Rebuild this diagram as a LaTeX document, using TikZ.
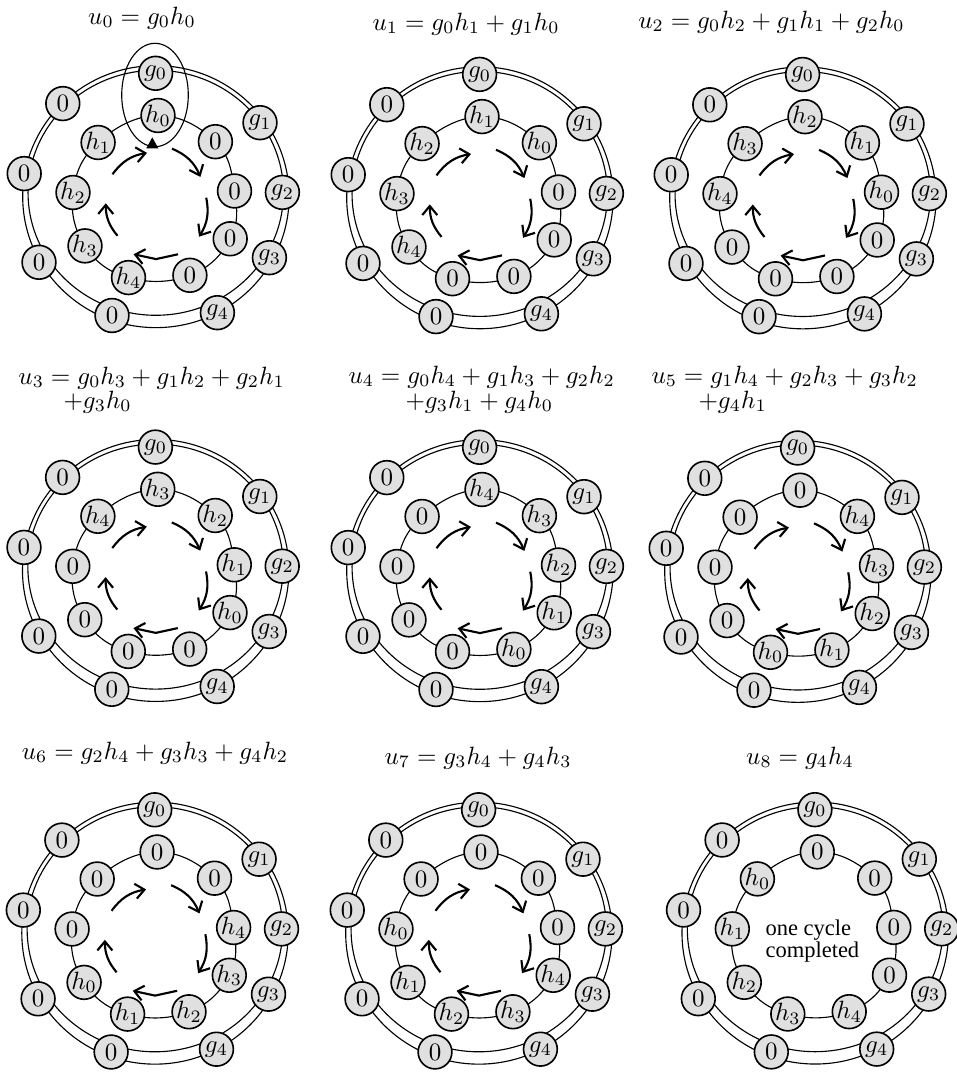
\documentclass[tikz,border=0pt]{standalone}
\usepackage{fontspec}
\newfontfamily\timesfont{Liberation Serif}
\usetikzlibrary{arrows.meta}
\definecolor{nodegray}{gray}{0.88}
\tikzset{
  ringnode/.style={circle, draw, line width=0.65pt, fill=nodegray, minimum size=13.5pt, inner sep=0pt},
  ringline/.style={line width=0.45pt},
  cyc/.style={line width=0.85pt, -{Straight Barb[length=3.6pt,width=6pt]}},
  ttl/.style={inner sep=0pt},
}
\newcommand{\drawpanel}[4]{%
 \begin{scope}[shift={(#2,1072-#3)}]
  \foreach \j/\x/\y in {0/-1.4/129,1/103/79.6,2/125.4/9.9,3/112.4/-55.4,4/60.4/-110.4,5/-45/-113.2,6/-118/-60,7/-132.8/28.7,8/-94.2/98.7}
    {\coordinate (oc#1-\j) at (\x,\y);}
  \foreach \j/\x/\y in {0/1/86.8,1/58.4/60.6,2/77.5/11.3,3/73.2/-36.5,4/32.9/-73,5/-28.5/-75.3,6/-72/-43.6,7/-84/9.8,8/-58.9/59.8}
    {\coordinate (ic#1-\j) at (\x,\y);}
  \draw[ringline] (-1.1,5.65) ellipse [x radius=133.2, y radius=131];
  \draw[ringline] (-1.25,9.5) ellipse [x radius=127.7, y radius=122.5];
  \draw[ringline] plot[smooth cycle, tension=0.7] coordinates {(ic#1-0) (ic#1-1) (ic#1-2) (ic#1-3) (ic#1-4) (ic#1-5) (ic#1-6) (ic#1-7) (ic#1-8)};
  \foreach \j in {0,...,8}{
    \node[ringnode] (o#1-\j) at (oc#1-\j) {\ifnum\j<5 $g_{\j}$\else $0$\fi};
    \pgfmathtruncatemacro{\idx}{mod(#1-\j+9,9)}
    \node[ringnode] (i#1-\j) at (ic#1-\j) {\ifnum\idx<5 $h_{\idx}$\else $0$\fi};
  }
  \ifnum#4=1
   \foreach \n/\sx/\sy/\ex/\ey/\b in {1/-44.5/28/-10/49.4/22, 2/15/53.6/43.4/25.4/22, 3/49.2/4.6/42/-34.4/22, 5/-39.5/-33.5/-51.2/-1/20}{
     \coordinate (as#1-\n) at (\sx,\sy);
     \coordinate (ae#1-\n) at (\ex,\ey);
     \draw[cyc] (as#1-\n) to[bend left=\b] (ae#1-\n);
   }
   \coordinate (as#1-4) at (21,-52);
   \coordinate (am#1-4) at (-1,-56.8);
   \coordinate (ae#1-4) at (-23.4,-52);
   \draw[cyc] (as#1-4) -- (am#1-4) -- (ae#1-4);
  \fi
 \end{scope}}
\begin{document}
\begin{tikzpicture}[x=0.4pt,y=0.4pt]
\useasboundingbox (0,0) rectangle (956,1072);
\drawpanel{0}{157}{202.3}{1}
\drawpanel{1}{481}{203.4}{1}
\drawpanel{2}{804}{203.5}{1}
\drawpanel{3}{156.8}{576.1}{1}
\drawpanel{4}{481}{576.3}{1}
\drawpanel{5}{799}{577}{1}
\drawpanel{6}{156.1}{938.8}{1}
\drawpanel{7}{480}{938.8}{1}
\drawpanel{8}{816.3}{938.7}{0}
% panel 1 extras
\begin{scope}[shift={(157,1072-202.3)}]
  \draw[line width=0.45pt] (-2,107.3) ellipse [x radius=33.3, y radius=51.7];
  \coordinate (tri) at (-4.7,59.6);
  \fill (-10.7,54) -- (1.3,54) -- (-4.7,65) -- cycle;
\end{scope}
% panel 9 text
\node[anchor=base west, inner sep=0pt, font=\timesfont\fontsize{9}{9}\selectfont] (oc1) at (765,1072-936) {one cycle};
\node[anchor=base west, inner sep=0pt, font=\timesfont\fontsize{9}{9}\selectfont] (oc2) at (765,1072-958) {completed};
% titles
\node[ttl] (t0) at (142,1072-18) {$u_0 = g_0h_0$};
\node[ttl] (t1) at (466,1072-24) {$u_1 = g_0h_1 + g_1h_0$};
\node[ttl] (t2) at (771.5,1072-22) {$u_2 = g_0h_2 + g_1h_1 + g_2h_0$};
\node[ttl,anchor=west] (t3a) at (18,1072-378) {$u_3 = g_0h_3 + g_1h_2 + g_2h_1$};
\node[ttl,anchor=west] (t3b) at (63,1072-402) {$+g_3h_0$};
\node[ttl,anchor=west] (t4a) at (348,1072-377) {$u_4 = g_0h_4 + g_1h_3 + g_2h_2$};
\node[ttl,anchor=west] (t4b) at (405,1072-402) {$+g_3h_1 + g_4h_0$};
\node[ttl,anchor=west] (t5a) at (651,1072-377) {$u_5 = g_1h_4 + g_2h_3 + g_3h_2$};
\node[ttl,anchor=west] (t5b) at (698,1072-402) {$+g_4h_1$};
\node[ttl] (t6) at (155,1072-753) {$u_6 = g_2h_4 + g_3h_3 + g_4h_2$};
\node[ttl] (t7) at (478,1072-758) {$u_7 = g_3h_4 + g_4h_3$};
\node[ttl] (t8) at (800,1072-758) {$u_8 = g_4h_4$};
\end{tikzpicture}
\end{document}
